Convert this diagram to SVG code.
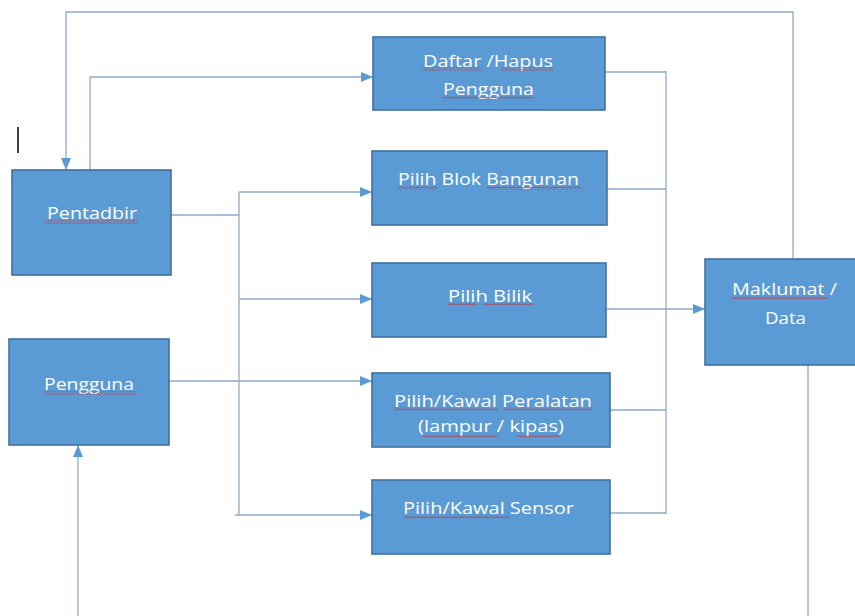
<svg xmlns="http://www.w3.org/2000/svg" width="855" height="616" viewBox="0 0 855 616">
  <style>
    .box { fill: #5b9bd5; stroke: #41719c; stroke-width: 1.6; }
    .lbl { font-family: "Open Sans", Lato, "Liberation Sans", sans-serif; font-size: 17px; fill: #ffffff; text-anchor: middle; }
    .con { fill: none; stroke: #8eaac8; stroke-width: 1.3; }
    .sq { fill: url(#squiggle); }
  </style>
  <defs>
    <marker id="arrow" markerUnits="userSpaceOnUse" markerWidth="12" markerHeight="10" viewBox="0 0 12 10" refX="12" refY="5" orient="auto">
      <path d="M0,0 L12,5 L0,10 Z" fill="#5b9bd5"/>
    </marker>
    <pattern id="squiggle" patternUnits="userSpaceOnUse" width="4" height="3">
      <path d="M0,2.5 L2,0.5 L4,2.5" fill="none" stroke="#c8302c" stroke-width="1"/>
    </pattern>
  </defs>

  <rect width="855" height="616" fill="#ffffff"/>

  <g id="connectors">
    <path class="con" d="M793,258 V12 H66 V170" marker-end="url(#arrow)"/>
    <path class="con" d="M90,170 V77 H373" marker-end="url(#arrow)"/>
    <path class="con" d="M171,215 H239"/>
    <path class="con" d="M239,192 V515"/>
    <path class="con" d="M239,192 H372" marker-end="url(#arrow)"/>
    <path class="con" d="M239,299 H372" marker-end="url(#arrow)"/>
    <path class="con" d="M235,515 H372" marker-end="url(#arrow)"/>
    <path class="con" d="M169,381 H372" marker-end="url(#arrow)"/>
    <path class="con" d="M605,72 H666"/>
    <path class="con" d="M607,189 H666"/>
    <path class="con" d="M610,410 H666"/>
    <path class="con" d="M610,513 H666"/>
    <path class="con" d="M666,71 V514"/>
    <path class="con" d="M606,309 H705" marker-end="url(#arrow)"/>
    <path class="con" d="M808,365 V616"/>
    <path class="con" d="M78,616 V445" marker-end="url(#arrow)"/>
  </g>

  <line x1="18" y1="127" x2="18" y2="153" stroke="#000000" stroke-width="1.5"/>

  <g id="pentadbir">
    <rect class="box" x="12" y="170" width="159" height="105"/>
    <text class="lbl" x="92" y="219" textLength="90" lengthAdjust="spacingAndGlyphs">Pentadbir</text>
    <rect class="sq" x="45" y="220.5" width="93" height="3"/>
  </g>

  <g id="pengguna">
    <rect class="box" x="9" y="339" width="160" height="106"/>
    <text class="lbl" x="89" y="390" textLength="90" lengthAdjust="spacingAndGlyphs">Pengguna</text>
    <rect class="sq" x="44" y="391.5" width="93" height="3"/>
  </g>

  <g id="daftar-hapus">
    <rect class="box" x="373" y="37" width="232" height="73"/>
    <text class="lbl" x="488" y="67" textLength="130" lengthAdjust="spacingAndGlyphs">Daftar /Hapus</text>
    <text class="lbl" x="488.5" y="95" textLength="91" lengthAdjust="spacingAndGlyphs">Pengguna</text>
    <rect class="sq" x="423" y="67.5" width="59" height="3"/>
    <rect class="sq" x="501" y="67.5" width="52" height="3"/>
    <rect class="sq" x="442" y="96.5" width="93" height="3"/>
  </g>

  <g id="pilih-blok">
    <rect class="box" x="372" y="151" width="235" height="74"/>
    <text class="lbl" x="488.5" y="185" textLength="181" lengthAdjust="spacingAndGlyphs">Pilih Blok Bangunan</text>
    <rect class="sq" x="398" y="186.5" width="39" height="3"/>
    <rect class="sq" x="487" y="186.5" width="94" height="3"/>
  </g>

  <g id="pilih-bilik">
    <rect class="box" x="372" y="263" width="234" height="74"/>
    <text class="lbl" x="490" y="302" textLength="84" lengthAdjust="spacingAndGlyphs">Pilih Bilik</text>
    <rect class="sq" x="448" y="302.5" width="29" height="3"/>
    <rect class="sq" x="483" y="302.5" width="50" height="3"/>
  </g>

  <g id="pilih-kawal-peralatan">
    <rect class="box" x="372" y="373" width="238" height="74"/>
    <text class="lbl" x="493" y="407" textLength="198" lengthAdjust="spacingAndGlyphs">Pilih/Kawal Peralatan</text>
    <text class="lbl" x="491" y="432" textLength="146" lengthAdjust="spacingAndGlyphs">(lampur / kipas)</text>
    <rect class="sq" x="394" y="407.5" width="104" height="3"/>
    <rect class="sq" x="503" y="407.5" width="89" height="3"/>
    <rect class="sq" x="423" y="434.5" width="74" height="3"/>
    <rect class="sq" x="517" y="434.5" width="43" height="3"/>
  </g>

  <g id="pilih-kawal-sensor">
    <rect class="box" x="372" y="480" width="238" height="74"/>
    <text class="lbl" x="488.5" y="514" textLength="171" lengthAdjust="spacingAndGlyphs">Pilih/Kawal Sensor</text>
    <rect class="sq" x="403" y="515.5" width="107" height="3"/>
  </g>

  <g id="maklumat-data">
    <rect class="box" x="705" y="259" width="160" height="106"/>
    <text class="lbl" x="784.5" y="295" textLength="105" lengthAdjust="spacingAndGlyphs">Maklumat /</text>
    <text class="lbl" x="785.5" y="324" textLength="41" lengthAdjust="spacingAndGlyphs">Data</text>
    <rect class="sq" x="732" y="296.5" width="96" height="3"/>
  </g>
</svg>
